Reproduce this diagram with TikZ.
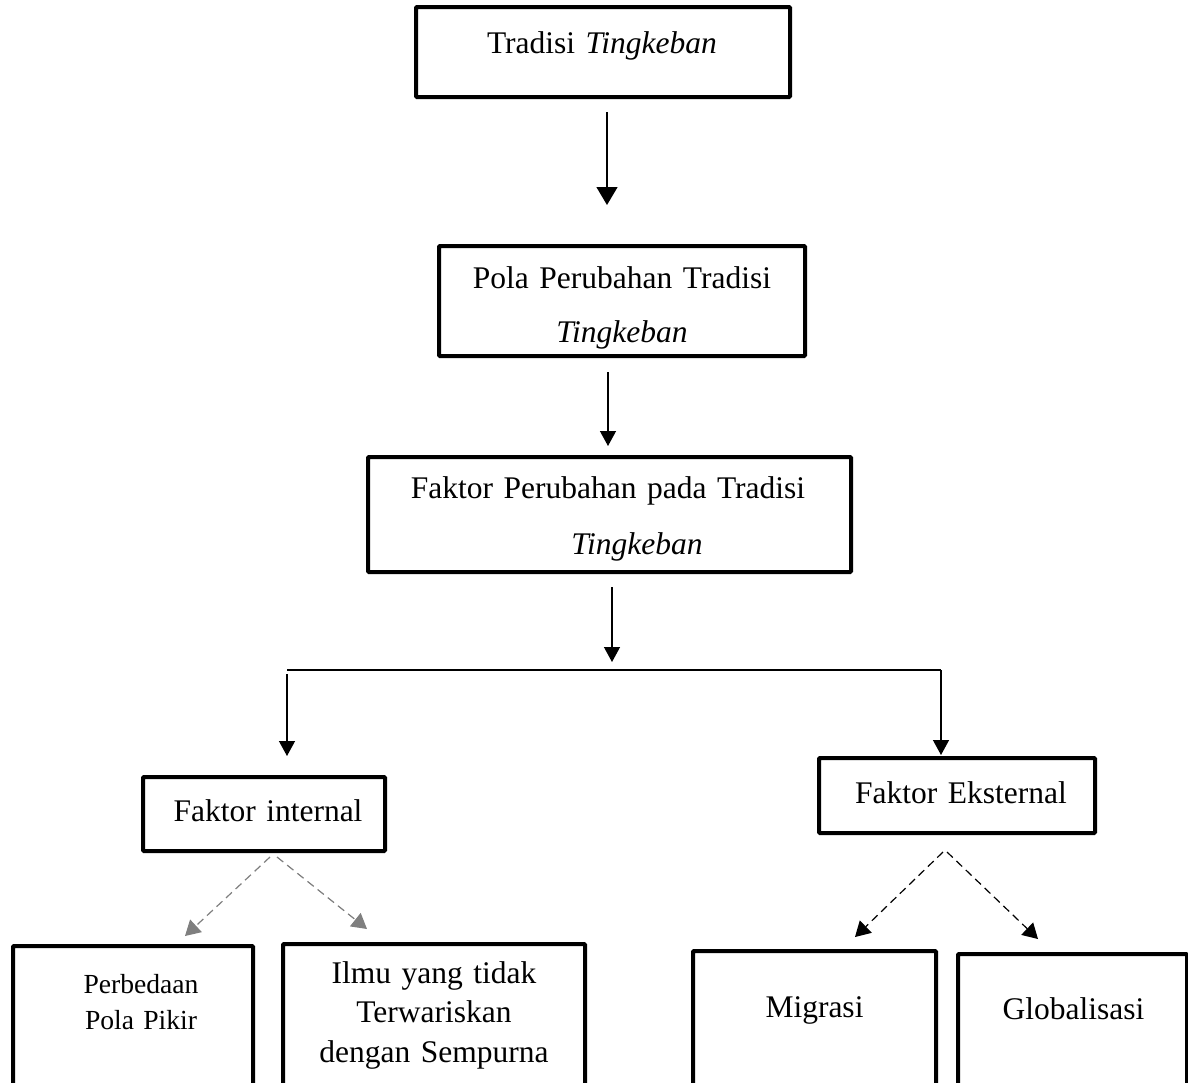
\documentclass[tikz,border=0pt]{standalone}
\usepackage{fontspec}
\setmainfont{Liberation Serif}
\usetikzlibrary{arrows.meta}
\definecolor{dashgray}{HTML}{7F7F7F}
\tikzset{
  box/.style={draw, line width=4pt, rounded corners=1pt, inner sep=0pt},
  txt/.style={inner sep=0pt, anchor=base, align=center, text width=460pt,
    font=\fontsize{31.5}{39.5}\selectfont},
  arrbig/.style={line width=1.4pt, -{Triangle[length=18pt,width=21pt]}},
  arr/.style={line width=1.3pt, -{Triangle[length=15pt,width=16pt]}},
  dasharr/.style={line width=1.2pt, dash pattern=on 8pt off 5pt,
    -{Triangle[length=15pt,width=17pt]}},
  bar/.style={line width=2.5pt}
}
\begin{document}
\begin{tikzpicture}[x=1pt, y=-1pt]
  \useasboundingbox (0,0) rectangle (1188,1082);
  \clip (0,0) rectangle (1188,1082);

  % Boxes
  \node[box, minimum width=374, minimum height=90] (tradisi) at (603,52) {};
  \node[box, minimum width=366, minimum height=110] (pola) at (622,301) {};
  \node[box, minimum width=483, minimum height=115] (faktor) at (609.5,514.5) {};
  \node[box, minimum width=242, minimum height=74] (internal) at (264,814) {};
  \node[box, minimum width=276, minimum height=75] (eksternal) at (957,795.5) {};
  \node[box, minimum width=240, minimum height=200, anchor=north] (perbedaan) at (133,944) {};
  \node[box, minimum width=302, minimum height=200, anchor=north] (ilmu) at (434,942) {};
  \node[box, minimum width=243, minimum height=200, anchor=north] (migrasi) at (814.5,949) {};
  \node[box, minimum width=229, minimum height=200, anchor=north] (globalisasi) at (1072.5,952) {};

  % Texts
  \node[txt] (tradisi-t) at (602,53) {Tradisi \textit{Tingkeban}};
  \node[txt, font=\fontsize{31.5}{54}\selectfont] (pola-t) at (622,288)
    {Pola Perubahan Tradisi\\ \textit{Tingkeban}};
  \node[txt, font=\fontsize{31.5}{56}\selectfont] (faktor-t) at (608,498)
    {Faktor Perubahan pada Tradisi\\ \hspace*{58pt}\textit{Tingkeban}};
  \node[txt] (internal-t) at (268,821) {Faktor internal};
  \node[txt] (eksternal-t) at (961,803) {Faktor Eksternal};
  \node[txt, font=\fontsize{27.6}{36}\selectfont] (perbedaan-t) at (141,993)
    {Perbedaan\\Pola Pikir};
  \node[txt] (ilmu-t) at (434,983) {Ilmu yang tidak\\Terwariskan\\dengan Sempurna};
  \node[txt] (migrasi-t) at (814.5,1017) {Migrasi};
  \node[txt] (globalisasi-t) at (1073.5,1019) {Globalisasi};

  % Bus
  \coordinate (busL) at (287,670);
  \coordinate (busM) at (612,670);
  \coordinate (busR) at (941,670);

  % Arrows
  \draw[arrbig, shorten <=13pt, shorten >=39pt] ([shift={(4,0)}]tradisi.south) -- ([shift={(-15,0)}]pola.north);
  \draw[arr, shorten <=14pt, shorten >=9pt] ([shift={(-14,0)}]pola.south) -- ([shift={(-1.5,0)}]faktor.north);
  \draw[arr, shorten <=13pt, shorten >=8pt] (faktor.south -| busM) -- (busM);
  \draw[bar] (busL) -- (busR);
  \draw[arr, shorten <=4pt, shorten >=19pt] (busL) -- (busL |- internal.north);
  \draw[arr, shorten >=1pt] (busR) -- (busR |- eksternal.north);

  % Dashed arrows
  \draw[dasharr, dashgray] ([shift={(6,4)}]internal.south) -- ([shift={(52,-8)}]perbedaan.north);
  \draw[dasharr, dashgray] ([shift={(13,4)}]internal.south) -- ([shift={(-67,-13)}]ilmu.north);
  \draw[dasharr] ([shift={(-14,17)}]eksternal.south) -- ([shift={(40.5,-12)}]migrasi.north);
  \draw[dasharr] ([shift={(-10,17)}]eksternal.south) -- ([shift={(-34.5,-13)}]globalisasi.north);
\end{tikzpicture}
\end{document}
